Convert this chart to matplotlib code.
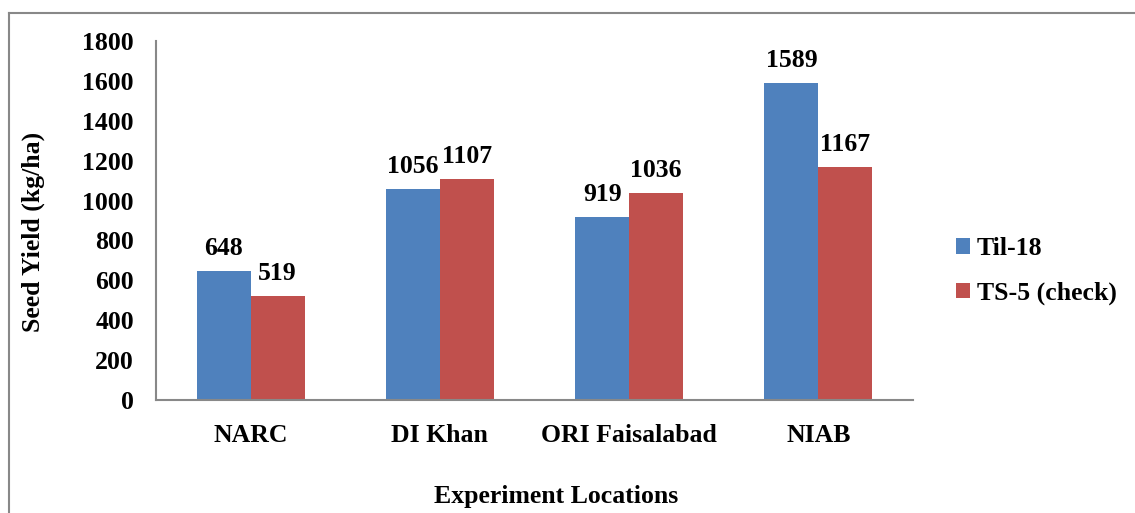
import matplotlib
matplotlib.use("Agg")
import matplotlib.pyplot as plt
from matplotlib.lines import Line2D
import numpy as np

categories = ["NARC", "DI Khan", "ORI Faisalabad", "NIAB"]
til18 = [648, 1056, 919, 1589]
ts5 = [519, 1107, 1036, 1167]
series_names = ["Til-18", "TS-5 (check)"]
yticks = [0, 200, 400, 600, 800, 1000, 1200, 1400, 1600, 1800]

plt.rcParams['font.family'] = ['Liberation Serif', 'DejaVu Serif']
plt.rcParams['font.weight'] = 'bold'
FS = 18.5

fig = plt.figure(figsize=(11.35, 5.13), dpi=100)
ax = fig.add_axes([156/1135, 1-400/513, (913-156)/1135, (400-41)/513])

x = np.arange(len(categories))
w = 0.285
b1 = ax.bar(x - w/2, til18, w, color="#4F81BD", label=series_names[0])
b2 = ax.bar(x + w/2, ts5, w, color="#C0504D", label=series_names[1])

for bars, vals in ((b1, til18), (b2, ts5)):
    for r, v in zip(bars, vals):
        ax.annotate(f"{v}", (r.get_x() + r.get_width()/2, v), xytext=(0, 8),
                    textcoords="offset points", ha="center", va="bottom",
                    fontsize=FS, fontweight="bold")

ax.set_xlim(-0.5, 3.5)
ax.set_ylim(0, 1800)
ax.set_yticks(yticks)
ax.set_xticks(x)
ax.set_xticklabels(categories, fontsize=FS, fontweight="bold")
ax.tick_params(axis='y', labelsize=FS, length=0, pad=16)
ax.tick_params(axis='x', length=0, pad=17)
for s in ["top", "right"]:
    ax.spines[s].set_visible(False)
for s in ["left", "bottom"]:
    ax.spines[s].set_color("#888888")
    ax.spines[s].set_linewidth(1.5)

fig.text(556/1135, 1-497/513, "Experiment Locations", ha="center", va="center",
         fontsize=FS, fontweight="bold")
fig.text(33/1135, 1-232/513, "Seed Yield (kg/ha)", ha="center", va="center",
         rotation=90, fontsize=FS, fontweight="bold")

leg = fig.legend(handles=[b1, b2], loc="center left",
                 bbox_to_anchor=(933/1135, 1-271/513), frameon=False,
                 prop={'size': FS, 'weight': 'bold'}, handlelength=0.55,
                 handleheight=0.55, handletextpad=0.25, labelspacing=0.85)

# outer frame (left and top edges visible)
fig.add_artist(Line2D([9/1135, 9/1135], [0, 1-13/513], transform=fig.transFigure,
                      color="#888888", lw=1.5))
fig.add_artist(Line2D([9/1135, 1], [1-13/513, 1-13/513], transform=fig.transFigure,
                      color="#888888", lw=1.5))

fig.savefig("out.png", dpi=100)
